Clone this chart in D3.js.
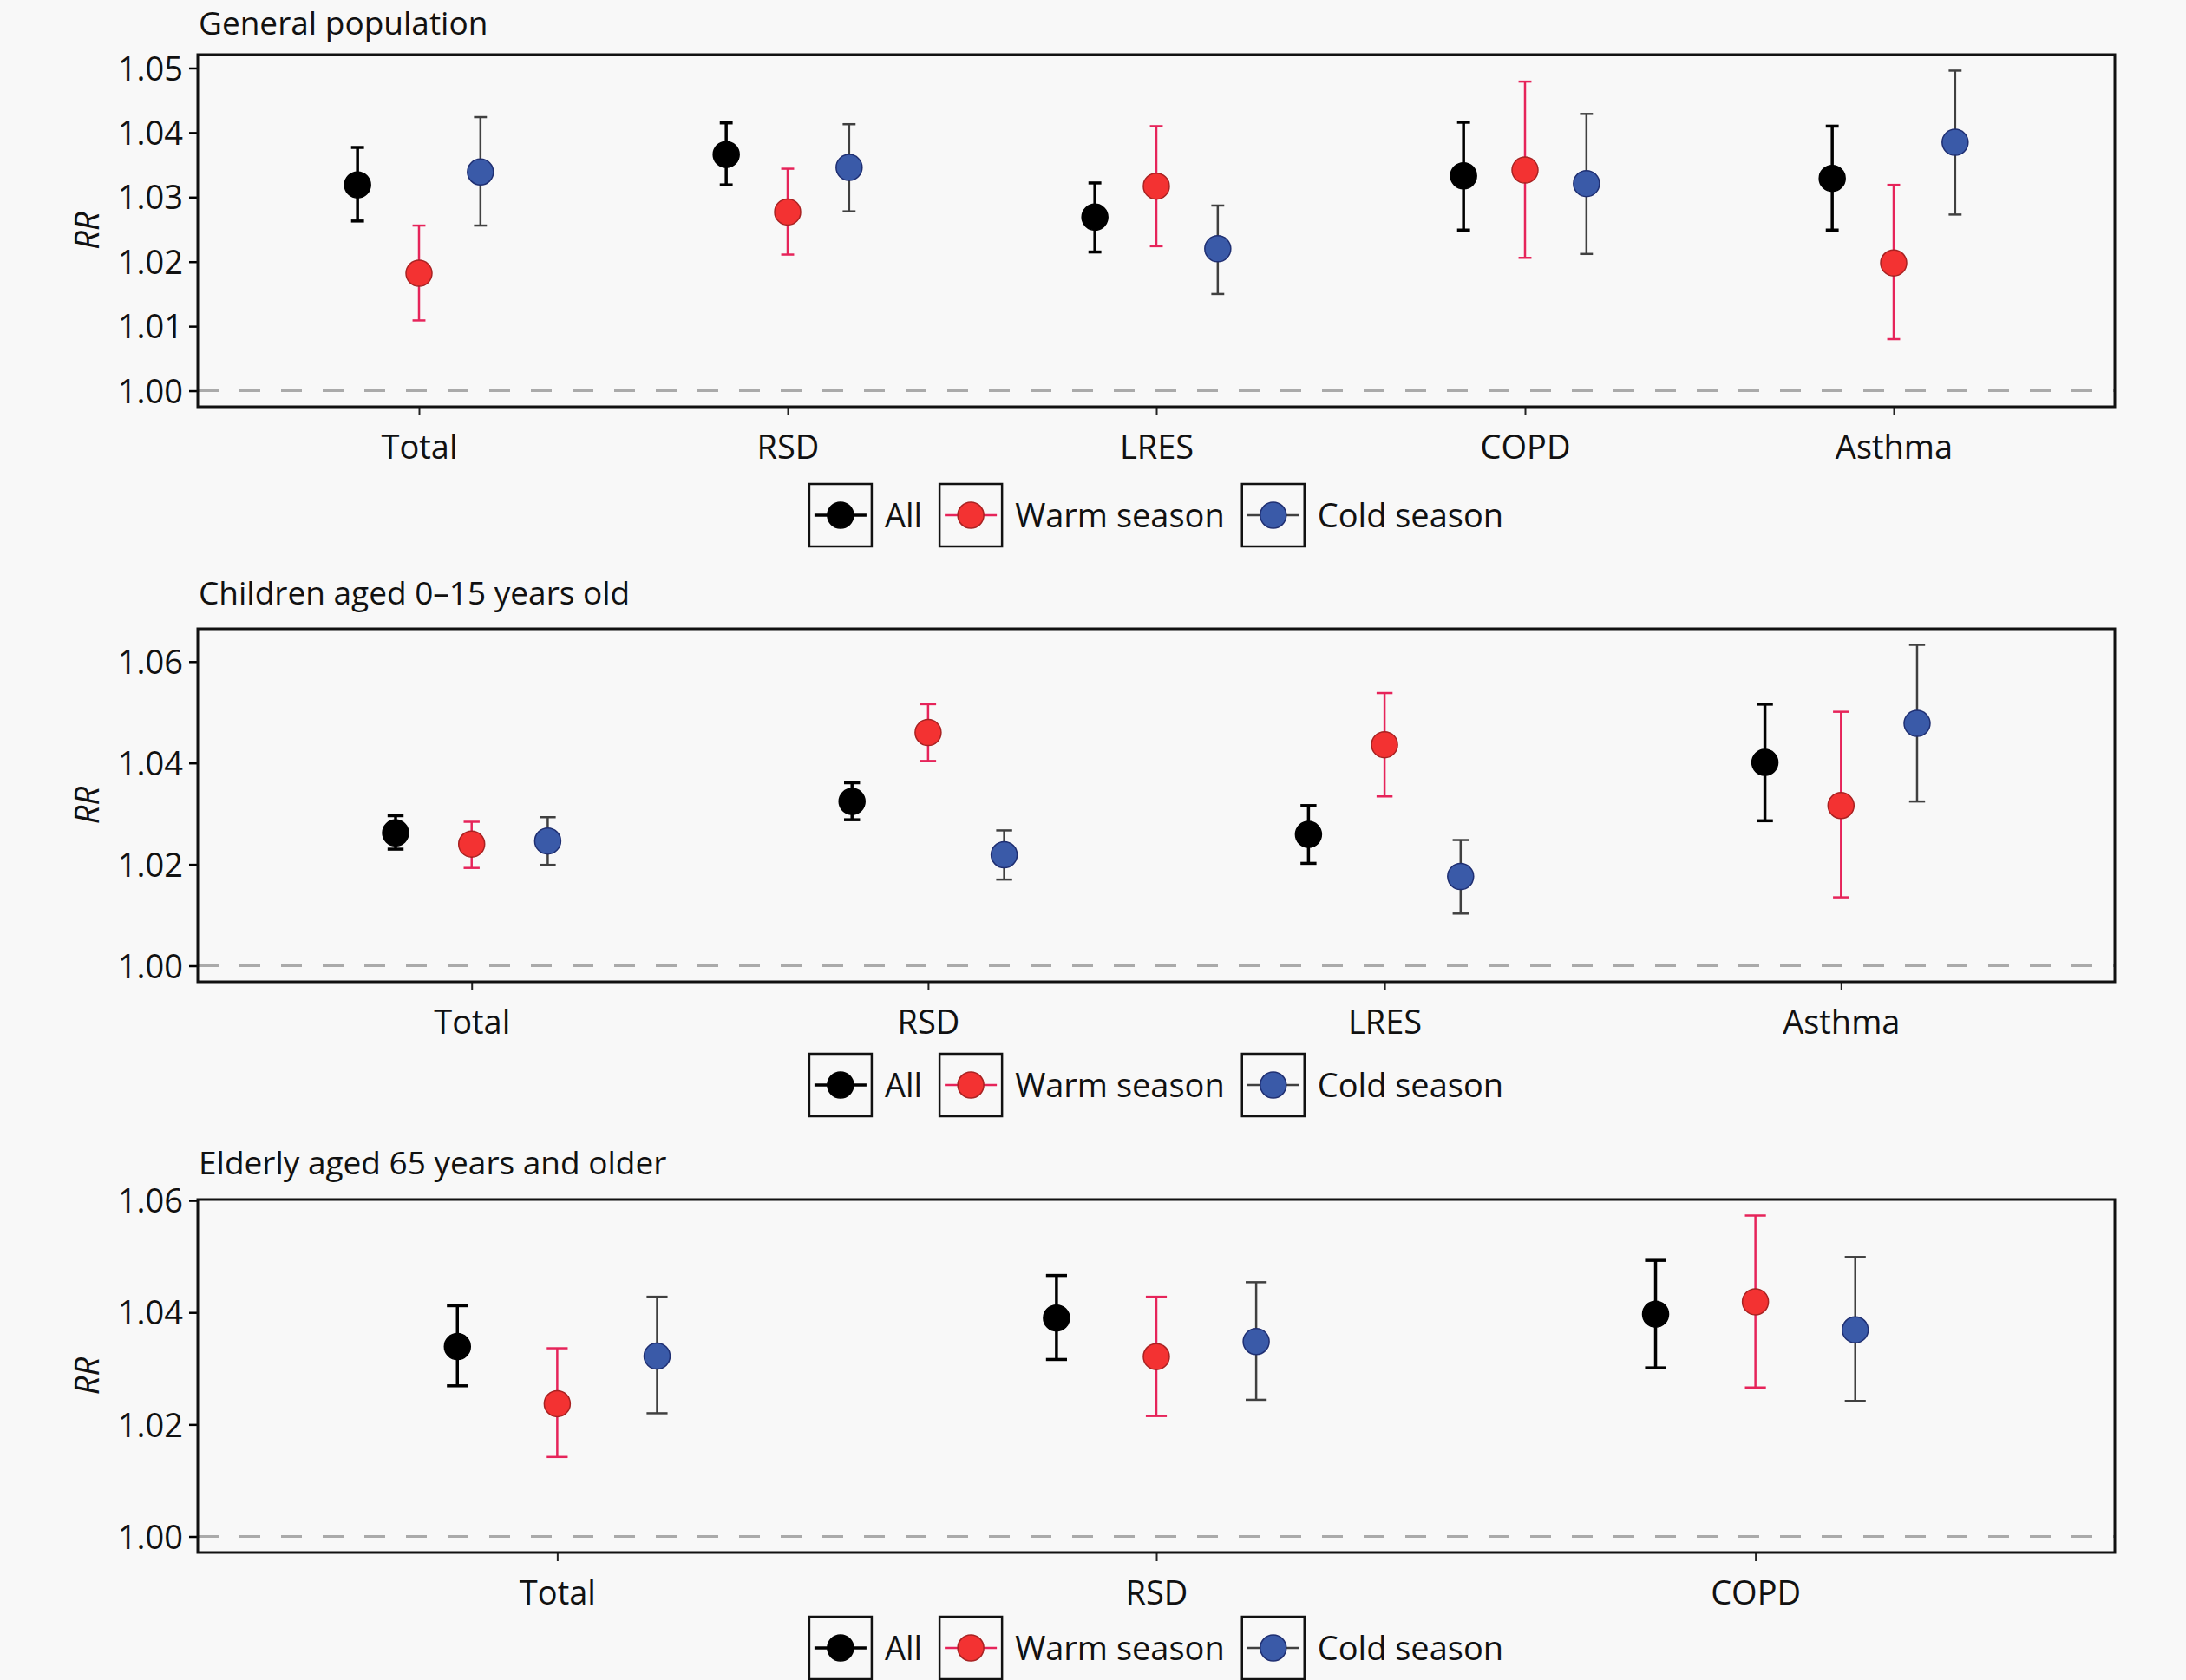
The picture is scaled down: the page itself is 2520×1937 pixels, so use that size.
<!DOCTYPE html>
<html>
<head>
    <meta charset="utf-8">
    <title>RR by season</title>
    <script src="https://d3js.org/d3.v7.min.js"></script>
    <style>
        body { margin: 0; background: #f8f8f8; }
        svg { display: block; font-family: "Open Sans", sans-serif; }
    </style>
</head>
<body>
<div id="chart"></div>
<script>

    // series, in drawing order
    let series = ["All", "Warm season", "Cold season"];

    // General population
    let genCats = ["Total", "RSD", "LRES", "COPD", "Asthma"];
    let genRR = [
        [1.0319, 1.0366, 1.0269, 1.0333, 1.0329],
        [1.0182, 1.0277, 1.0317, 1.0342, 1.0198],
        [1.0339, 1.0346, 1.0220, 1.0321, 1.0385]
    ];
    let genLo = [
        [1.0263, 1.0319, 1.0215, 1.0249, 1.0249],
        [1.0109, 1.0211, 1.0224, 1.0206, 1.0080],
        [1.0256, 1.0278, 1.0150, 1.0212, 1.0273]
    ];
    let genHi = [
        [1.0377, 1.0415, 1.0322, 1.0416, 1.0410],
        [1.0256, 1.0344, 1.0410, 1.0479, 1.0319],
        [1.0424, 1.0413, 1.0287, 1.0429, 1.0496]
    ];
    let genTicks = [1.00, 1.01, 1.02, 1.03, 1.04, 1.05];

    // Children aged 0-15
    let chiCats = ["Total", "RSD", "LRES", "Asthma"];
    let chiRR = [
        [1.0262, 1.0324, 1.0259, 1.0401],
        [1.0240, 1.0460, 1.0436, 1.0316],
        [1.0246, 1.0219, 1.0176, 1.0478]
    ];
    let chiLo = [
        [1.0230, 1.0288, 1.0202, 1.0286],
        [1.0193, 1.0404, 1.0334, 1.0135],
        [1.0199, 1.0170, 1.0103, 1.0324]
    ];
    let chiHi = [
        [1.0296, 1.0361, 1.0316, 1.0516],
        [1.0284, 1.0516, 1.0538, 1.0501],
        [1.0293, 1.0267, 1.0248, 1.0633]
    ];
    let chiTicks = [1.00, 1.02, 1.04, 1.06];

    // Elderly aged 65+
    let eldCats = ["Total", "RSD", "COPD"];
    let eldRR = [
        [1.0339, 1.0390, 1.0397],
        [1.0237, 1.0321, 1.0419],
        [1.0322, 1.0348, 1.0369]
    ];
    let eldLo = [
        [1.0269, 1.0316, 1.0301],
        [1.0142, 1.0215, 1.0266],
        [1.0220, 1.0244, 1.0242]
    ];
    let eldHi = [
        [1.0412, 1.0466, 1.0493],
        [1.0336, 1.0428, 1.0573],
        [1.0428, 1.0454, 1.0499]
    ];
    let eldTicks = [1.00, 1.02, 1.04, 1.06];

    let panelTitles = ["General population", "Children aged 0\u201315 years old", "Elderly aged 65 years and older"];

    // look
    let fillCol = ["#000000", "#f33232", "#3a5aa8"];
    let edgeCol = ["#000000", "#a82222", "#1f2f72"];
    let barCol  = ["#000000", "#e6245a", "#404040"];
    let barW    = [3.5, 2.5, 2.5];

    let W = 2520, H = 1937;
    let left = 228, right = 2438;

    let svg = d3.select("#chart").append("svg")
        .attr("width", W)
        .attr("height", H);

    svg.append("rect").attr("width", W).attr("height", H).attr("fill", "#f8f8f8");

    function drawPanel(title, cats, rr, lo, hi, ticks, top, bottom, legendY, titleY) {
        let g = svg.append("g");

        let xScale = d3.scalePoint()
            .domain(cats)
            .range([left, right])
            .padding(0.6);
        let step = xScale.step();

        // ggplot-like 5% expansion over data + reference line
        let all = [1.0].concat(lo.flat(), hi.flat());
        let mn = d3.min(all), mx = d3.max(all);
        let pad = (mx - mn) * 0.05;
        let yScale = d3.scaleLinear()
            .domain([mn - pad, mx + pad])
            .range([bottom, top]);

        // reference line at 1
        g.append("line")
            .attr("x1", left).attr("x2", right)
            .attr("y1", yScale(1)).attr("y2", yScale(1))
            .attr("stroke", "#aaaaaa")
            .attr("stroke-width", 3)
            .attr("stroke-dasharray", "24 24");

        // axes
        let yAxis = d3.axisLeft(yScale)
            .tickValues(ticks)
            .tickSize(10)
            .tickPadding(7)
            .tickFormat(d3.format(".2f"));
        let ya = g.append("g")
            .attr("transform", "translate(" + left + ",0)")
            .call(yAxis);
        ya.select(".domain").remove();
        ya.selectAll("line").attr("stroke", "#000").attr("stroke-width", 2.5);
        ya.selectAll("text")
            .attr("font-size", 38)
            .attr("font-family", "Open Sans")
            .attr("fill", "#111")
            .attr("dy", "0.36em");

        let xAxis = d3.axisBottom(xScale).tickSize(10);
        let xa = g.append("g")
            .attr("transform", "translate(0," + bottom + ")")
            .call(xAxis);
        xa.select(".domain").remove();
        xa.selectAll("line").attr("stroke", "#222").attr("stroke-width", 2);
        xa.selectAll("text")
            .attr("font-size", 38)
            .attr("font-family", "Open Sans")
            .attr("fill", "#111")
            .attr("y", 60)
            .attr("dy", 0);

        // frame
        g.append("rect")
            .attr("x", left).attr("y", top)
            .attr("width", right - left).attr("height", bottom - top)
            .attr("fill", "none")
            .attr("stroke", "#111")
            .attr("stroke-width", 3);

        // title and y label
        g.append("text")
            .attr("x", 229).attr("y", titleY)
            .attr("font-size", 37)
            .attr("fill", "#111")
            .text(title);

        g.append("text")
            .attr("transform", "translate(114," + ((top + bottom) / 2) + ") rotate(-90)")
            .attr("text-anchor", "middle")
            .attr("font-size", 38)
            .attr("font-style", "italic")
            .attr("fill", "#111")
            .text("RR");

        // error bars and points
        let cap = step * 0.035;
        series.forEach((s, i) => {
            let off = (i - 1) * step / 6;
            let rows = cats.map((c, j) => ({cat: c, rr: rr[i][j], lo: lo[i][j], hi: hi[i][j]}));
            let sg = g.append("g");

            sg.selectAll("line.bar").data(rows).enter().append("line")
                .attr("class", "bar")
                .attr("x1", d => xScale(d.cat) + off)
                .attr("x2", d => xScale(d.cat) + off)
                .attr("y1", d => yScale(d.lo))
                .attr("y2", d => yScale(d.hi))
                .attr("stroke", barCol[i])
                .attr("stroke-width", barW[i]);

            ["lo", "hi"].forEach(k => {
                sg.selectAll("line.cap" + k).data(rows).enter().append("line")
                    .attr("class", "cap" + k)
                    .attr("x1", d => xScale(d.cat) + off - cap / 2)
                    .attr("x2", d => xScale(d.cat) + off + cap / 2)
                    .attr("y1", d => yScale(d[k]))
                    .attr("y2", d => yScale(d[k]))
                    .attr("stroke", barCol[i])
                    .attr("stroke-width", barW[i]);
            });

            sg.selectAll("circle").data(rows).enter().append("circle")
                .attr("cx", d => xScale(d.cat) + off)
                .attr("cy", d => yScale(d.rr))
                .attr("r", 15)
                .attr("fill", fillCol[i])
                .attr("stroke", edgeCol[i])
                .attr("stroke-width", 1.5);
        });

        // legend, centred under the panel
        let lg = g.append("g");
        let key = 72, gapIn = 15, gapOut = 20;
        let xPos = 0;
        series.forEach((s, i) => {
            let item = lg.append("g").attr("transform", "translate(" + xPos + ",0)");
            item.append("rect")
                .attr("x", 0).attr("y", -key / 2)
                .attr("width", key).attr("height", key)
                .attr("fill", "#f8f8f8")
                .attr("stroke", "#111")
                .attr("stroke-width", 2.5);
            item.append("line")
                .attr("x1", 6).attr("x2", key - 6)
                .attr("y1", 0).attr("y2", 0)
                .attr("stroke", barCol[i])
                .attr("stroke-width", barW[i]);
            item.append("circle")
                .attr("cx", key / 2).attr("cy", 0).attr("r", 15)
                .attr("fill", fillCol[i])
                .attr("stroke", edgeCol[i])
                .attr("stroke-width", 1.5);
            let t = item.append("text")
                .attr("x", key + gapIn).attr("y", 0)
                .attr("dy", "0.36em")
                .attr("font-size", 38)
                .attr("fill", "#111")
                .text(s);
            xPos += key + gapIn + t.node().getComputedTextLength() + gapOut;
        });
        let lw = xPos - gapOut;
        lg.attr("transform", "translate(" + ((left + right) / 2 - lw / 2) + "," + legendY + ")");
    }

    drawPanel(panelTitles[0], genCats, genRR, genLo, genHi, genTicks, 63, 469, 594, 40);
    drawPanel(panelTitles[1], chiCats, chiRR, chiLo, chiHi, chiTicks, 725, 1132, 1251, 697);
    drawPanel(panelTitles[2], eldCats, eldRR, eldLo, eldHi, eldTicks, 1383, 1790, 1900, 1354);

</script>
</body>
</html>
